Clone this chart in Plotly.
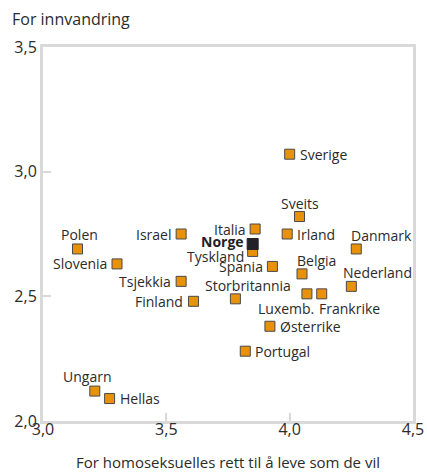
import plotly.graph_objects as go

countries = ["Sverige", "Sveits", "Italia", "Irland", "Tyskland", "Spania", "Danmark",
             "Belgia", "Nederland", "Luxemb.", "Frankrike", "Storbritannia", "Østerrike",
             "Portugal", "Israel", "Polen", "Slovenia", "Tsjekkia", "Finland", "Ungarn", "Hellas"]
x_vals = [4.00, 4.04, 3.86, 3.99, 3.85, 3.93, 4.27,
          4.05, 4.25, 4.07, 4.13, 3.78, 3.92,
          3.82, 3.56, 3.14, 3.30, 3.56, 3.61, 3.21, 3.27]
y_vals = [3.07, 2.82, 2.77, 2.75, 2.68, 2.62, 2.69,
          2.59, 2.54, 2.51, 2.51, 2.49, 2.38,
          2.28, 2.75, 2.69, 2.63, 2.56, 2.48, 2.12, 2.09]

norway = "Norge"
norway_x = [3.85]
norway_y = [2.71]

x_title = "For homoseksuelles rett til å leve som de vil"
y_title = "For innvandring"

# label placement: (xanchor, yanchor, xshift, yshift)
placement = {
    "Sverige": ("left", "middle", 8, 0),
    "Sveits": ("center", "bottom", 0, 2),
    "Italia": ("right", "middle", -7, 0),
    "Irland": ("left", "middle", 8, 0),
    "Tyskland": ("right", "middle", -7, -5),
    "Spania": ("right", "middle", -7, 0),
    "Danmark": ("left", "bottom", -7, 2),
    "Belgia": ("left", "bottom", -7, 2),
    "Nederland": ("left", "bottom", -10, 2),
    "Luxemb.": ("right", "top", 9, -3),
    "Frankrike": ("left", "top", -5, -3),
    "Storbritannia": ("left", "bottom", -32, 2),
    "Østerrike": ("left", "middle", 8, 0),
    "Portugal": ("left", "middle", 8, 0),
    "Israel": ("right", "middle", -8, 0),
    "Polen": ("center", "bottom", 2, 3),
    "Slovenia": ("right", "middle", -8, 0),
    "Tsjekkia": ("right", "middle", -8, 0),
    "Finland": ("right", "middle", -8, 0),
    "Ungarn": ("center", "bottom", -8, 3),
    "Hellas": ("left", "middle", 8, 0),
}

FONT = "Open Sans"
TXT = "#2b2b2b"
GRID = "#d9d9d9"

fig = go.Figure()
fig.add_trace(go.Scatter(
    x=x_vals, y=y_vals, mode="markers",
    marker=dict(symbol="square", size=10, color="#E8920C",
                line=dict(color="#4a4a4a", width=1)),
    hoverinfo="text", text=countries, showlegend=False))
fig.add_trace(go.Scatter(
    x=norway_x, y=norway_y, mode="markers",
    marker=dict(symbol="square", size=11, color="#222228",
                line=dict(color="#222228", width=1)),
    hoverinfo="text", text=[norway], showlegend=False))

annotations = []
for name, xv, yv in zip(countries, x_vals, y_vals):
    xa, ya, xs, ys = placement[name]
    annotations.append(dict(x=xv, y=yv, xref="x", yref="y", text=name, showarrow=False,
                            xanchor=xa, yanchor=ya, xshift=xs, yshift=ys,
                            font=dict(family=FONT, size=14, color=TXT)))
annotations.append(dict(x=norway_x[0], y=norway_y[0], xref="x", yref="y",
                        text="<b>" + norway + "</b>", showarrow=False,
                        xanchor="right", yanchor="middle", xshift=-7, yshift=2,
                        font=dict(family=FONT, size=14, color="#222222")))
annotations.append(dict(x=0, y=1, xref="paper", yref="paper", text=y_title, showarrow=False,
                        xanchor="left", yanchor="bottom", xshift=-33, yshift=15,
                        font=dict(family=FONT, size=16, color=TXT)))

axis_common = dict(showline=True, mirror=True, linecolor=GRID, linewidth=3,
                   ticks="inside", ticklen=8, tickwidth=2, tickcolor=GRID,
                   showgrid=False, zeroline=False, tickformat=".1f", automargin=False,
                   tickfont=dict(family=FONT, size=16, color=TXT))

fig.update_layout(
    width=427, height=475,
    margin=dict(l=43, r=14, t=47, b=54),
    paper_bgcolor="white", plot_bgcolor="white",
    separators=", ",
    font=dict(family=FONT, size=14, color=TXT),
    xaxis=dict(range=[3.0, 4.5], dtick=0.5, tick0=3.0, ticklabelstandoff=-8,
               ticklabeloverflow="allow",
               title=dict(text=x_title, font=dict(family=FONT, size=15, color=TXT), standoff=19),
               **axis_common),
    yaxis=dict(range=[2.0, 3.5], dtick=0.5, tick0=2.0, **axis_common),
    annotations=annotations,
)

fig.write_html("out.html",
               config={"displayModeBar": False},
               post_script="document.body.style.margin='0';document.body.style.overflow='hidden';")
